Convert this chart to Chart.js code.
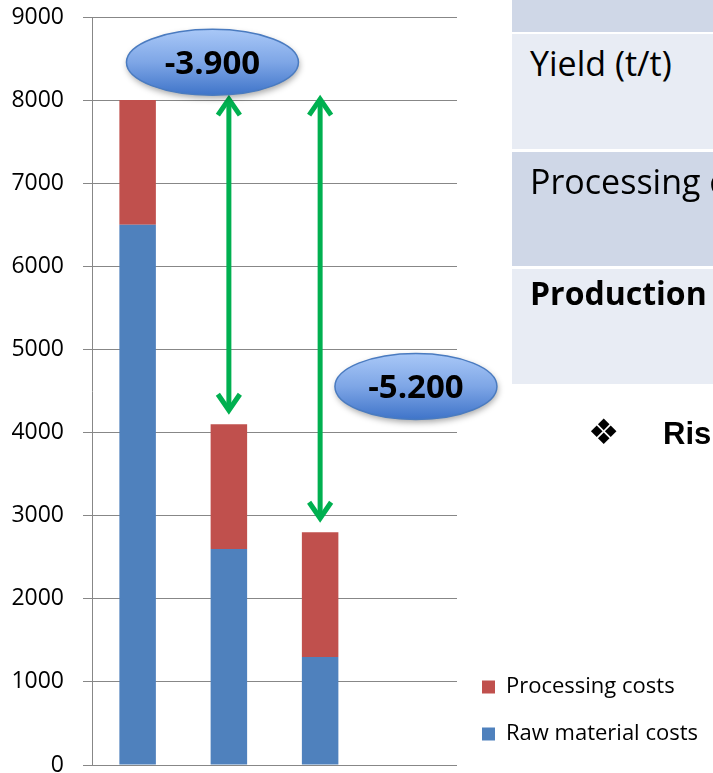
<!DOCTYPE html>
<html>
<head>
<meta charset="utf-8">
<script src="https://cdn.jsdelivr.net/npm/chart.js@4.4.1/dist/chart.umd.min.js"></script>
<style>
  html, body { margin: 0; padding: 0; background: #fff; }
  #wrap { position: relative; width: 713px; height: 773px; overflow: hidden; }
  #c { position: absolute; left: 0; top: 0; }
  .row { position: absolute; left: 512px; width: 201px; }
  .txt { position: absolute; white-space: nowrap; color: #000; }
</style>
</head>
<body>
<div id="wrap">
  <canvas id="c" width="713" height="773"></canvas>
  <div class="row" style="top:0;height:32px;background:#cfd7e7"></div>
  <div class="row" style="top:34px;height:115px;background:#e8ecf4"></div>
  <div class="row" style="top:152px;height:114px;background:#cfd7e7"></div>
  <div class="row" style="top:269px;height:115px;background:#e8ecf4"></div>
  <div class="txt" style="left:530px;top:46px;font:34px/34px 'Open Sans'">Yield (t/t)</div>
  <div class="txt" style="left:530px;top:164px;font:34px/34px 'Open Sans'">Processing costs</div>
  <div class="txt" style="left:530px;top:277px;font:bold 32px/32px 'Open Sans'">Production costs</div>
  <div class="txt" style="left:588px;top:415px;font:35px/35px 'DejaVu Sans'">❖</div>
  <div class="txt" style="left:663px;top:418px;font:bold 31px/31px 'Liberation Sans'">Risks</div>
</div>
<script>
// ---- data ----
const categories = ['', '', '', ''];
const rawMaterialCosts = [6500, 2600, 1300, null];
const processingCosts = [1500, 1500, 1500, null];
const seriesNames = ['Raw material costs', 'Processing costs'];
const yTickLabels = ['0', '1000', '2000', '3000', '4000', '5000', '6000', '7000', '8000', '9000'];
const savingTargets = [1, 2];            // categories compared with the first one

const totals = rawMaterialCosts.map((v, i) => (v || 0) + (processingCosts[i] || 0));
const savingLabels = savingTargets.map(i => '-' + ((totals[0] - totals[i]) / 1000).toFixed(3));

// ---- annotation placement (category index / value space) ----
const bubblePlacement = [
  { xIndex: 0.82, yValue: 8455, rx: 86, ry: 33 },
  { xIndex: 3.05, yValue: 4555, rx: 81, ry: 33 }
];

Chart.defaults.font.family = '"Open Sans"';
Chart.defaults.color = '#000';

const mctx = document.createElement('canvas').getContext('2d');
mctx.font = '22px "Open Sans"';
const legendTextW = Math.max(...seriesNames.map(n => mctx.measureText(n).width));
const legendPad = 25, legendBox = 13, legendFont = 22;
const legendW = legendPad + legendBox + legendFont / 2 + legendTextW + 12;
const padRight = Math.max(0, 713 - 455 - legendW);

const savingsPlugin = {
  id: 'savings',
  afterDraw(chart) {
    const { ctx, scales: { x, y } } = chart;
    ctx.save();
    // green double arrows
    ctx.strokeStyle = '#00b050';
    ctx.lineWidth = 5;
    ctx.lineJoin = 'miter';
    ctx.lineCap = 'butt';
    savingTargets.forEach(i => {
      const px = x.getPixelForValue(i);
      const yTop = y.getPixelForValue(totals[0]) - 5;
      const yBot = y.getPixelForValue(totals[i]) - 10;
      ctx.beginPath();
      ctx.moveTo(px, yTop + 6);
      ctx.lineTo(px, yBot - 6);
      ctx.stroke();
      ctx.beginPath();
      ctx.moveTo(px - 11, yTop + 20);
      ctx.lineTo(px, yTop + 4);
      ctx.lineTo(px + 11, yTop + 20);
      ctx.stroke();
      ctx.beginPath();
      ctx.moveTo(px - 11, yBot - 20);
      ctx.lineTo(px, yBot - 4);
      ctx.lineTo(px + 11, yBot - 20);
      ctx.stroke();
    });
    // blue bubbles
    const x0 = x.getPixelForValue(0), x1 = x.getPixelForValue(1);
    bubblePlacement.forEach((b, k) => {
      const cx = x0 + b.xIndex * (x1 - x0);
      const cy = y.getPixelForValue(b.yValue);
      const g = ctx.createLinearGradient(0, cy - b.ry, 0, cy + b.ry);
      g.addColorStop(0, '#a9c8f7');
      g.addColorStop(0.5, '#7ea6e6');
      g.addColorStop(1, '#3f74c9');
      ctx.save();
      ctx.shadowColor = 'rgba(0,0,0,0.35)';
      ctx.shadowBlur = 6;
      ctx.shadowOffsetX = 1;
      ctx.shadowOffsetY = 3;
      ctx.beginPath();
      ctx.ellipse(cx, cy, b.rx, b.ry, 0, 0, Math.PI * 2);
      ctx.fillStyle = g;
      ctx.fill();
      ctx.restore();
      ctx.beginPath();
      ctx.ellipse(cx, cy, b.rx, b.ry, 0, 0, Math.PI * 2);
      ctx.strokeStyle = '#4a7bc0';
      ctx.lineWidth = 1.5;
      ctx.stroke();
      ctx.fillStyle = '#000';
      ctx.font = 'bold 33px "Open Sans"';
      ctx.textAlign = 'center';
      ctx.textBaseline = 'alphabetic';
      ctx.fillText(savingLabels[k], cx, cy + 12);
    });
    ctx.restore();
  }
};

new Chart(document.getElementById('c'), {
  type: 'bar',
  data: {
    labels: categories,
    datasets: [
      { label: seriesNames[0], data: rawMaterialCosts, backgroundColor: '#4f81bd', borderWidth: 0 },
      { label: seriesNames[1], data: processingCosts, backgroundColor: '#c0504d', borderWidth: 0 }
    ]
  },
  options: {
    responsive: false,
    animation: false,
    devicePixelRatio: 1,
    categoryPercentage: 1,
    barPercentage: 0.4,
    layout: { padding: { left: 0, top: 17, right: padRight, bottom: 3 } },
    plugins: {
      tooltip: { enabled: false },
      legend: {
        position: 'right',
        align: 'end',
        reverse: true,
        maxWidth: 400,
        labels: {
          boxWidth: legendBox, boxHeight: legendBox, padding: legendPad,
          font: { size: legendFont, family: '"Open Sans"' }, color: '#000'
        }
      }
    },
    scales: {
      x: {
        stacked: true,
        ticks: { display: false },
        grid: { display: false, drawTicks: false },
        border: { display: false },
        afterFit: s => { s.height = 5; s.paddingLeft = 0; s.paddingRight = 0; }
      },
      y: {
        stacked: true,
        min: 0, max: 9000,
        ticks: {
          stepSize: 1000, padding: 19, color: '#000',
          font: { size: 23, family: '"Open Sans"' },
          callback: (v, i) => yTickLabels[i]
        },
        grid: { color: '#878787', lineWidth: 1, tickLength: 9 },
        border: { color: '#878787', width: 1 },
        afterFit: s => { s.width = 92; s.paddingTop = 0; s.paddingBottom = 0; }
      }
    }
  },
  plugins: [savingsPlugin]
});
</script>
</body>
</html>
